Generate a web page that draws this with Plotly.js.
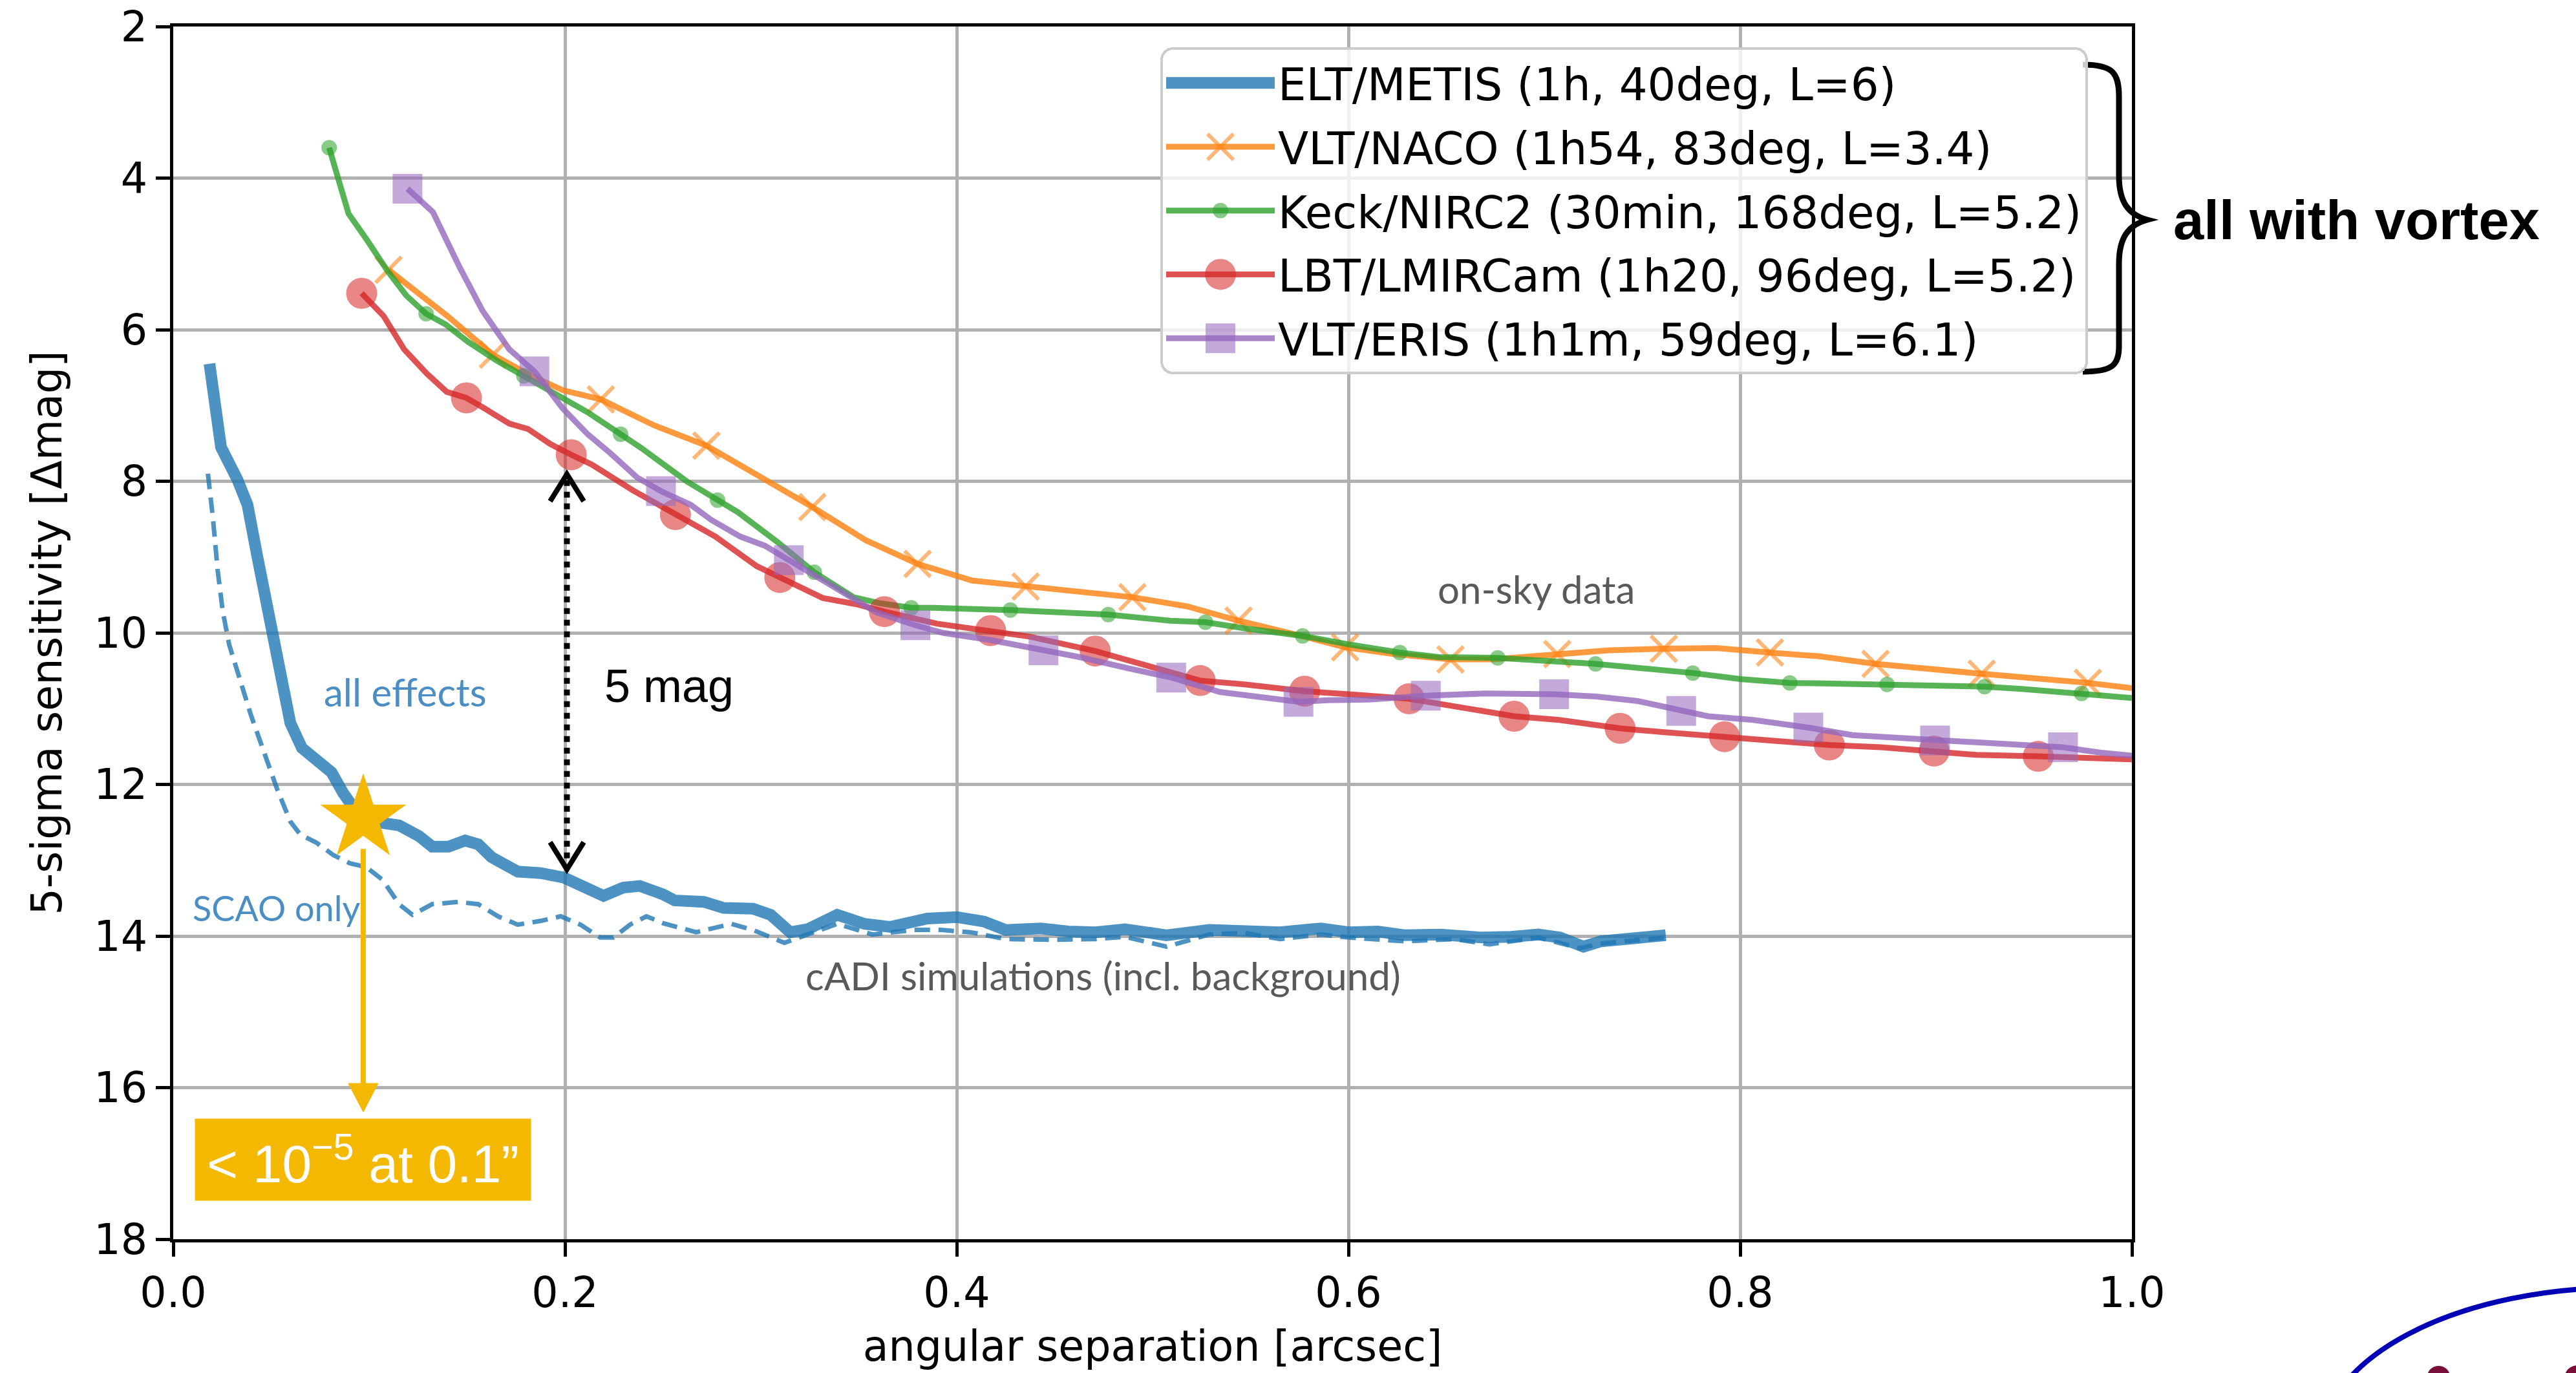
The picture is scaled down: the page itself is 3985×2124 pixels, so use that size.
<!DOCTYPE html>
<html>
<head>
<meta charset="utf-8">
<script src="https://cdn.plot.ly/plotly-3.0.1.min.js"></script>
<style>html,body{margin:0;padding:0;background:#fff;}#chart{width:3985px;height:2124px;}</style>
</head>
<body>
<div id="chart"></div>
<script>
// ---------------- data ----------------
const xTicks = [0.0, 0.2, 0.4, 0.6, 0.8, 1.0];
const yTicks = [2, 4, 6, 8, 10, 12, 14, 16, 18];

const seriesNames = [
  "ELT/METIS (1h, 40deg, L=6)",
  "VLT/NACO (1h54, 83deg, L=3.4)",
  "Keck/NIRC2 (30min, 168deg, L=5.2)",
  "LBT/LMIRCam (1h20, 96deg, L=5.2)",
  "VLT/ERIS (1h1m, 59deg, L=6.1)"
];

// ELT/METIS, all effects (solid)
const eltX = [0.0185,0.0244,0.0328,0.0379,0.0429,0.0480,0.0547,0.0598,0.0657,0.0749,0.0808,0.0867,0.0934,0.1019,0.1153,0.1254,0.1322,0.1406,0.1490,0.1557,0.1625,0.1759,0.1877,0.1995,0.2096,0.2197,0.2298,0.2382,0.2500,0.256,0.271,0.281,0.296,0.305,0.315,0.324,0.339,0.353,0.366,0.385,0.400,0.414,0.425,0.443,0.457,0.471,0.486,0.507,0.529,0.547,0.565,0.586,0.600,0.615,0.629,0.647,0.668,0.683,0.697,0.708,0.720,0.729,0.744,0.762];
const eltY = [6.45,7.55,7.98,8.31,8.99,9.61,10.59,11.19,11.52,11.71,11.84,12.11,12.36,12.49,12.54,12.68,12.82,12.82,12.74,12.79,12.96,13.15,13.17,13.23,13.36,13.47,13.36,13.34,13.45,13.53,13.55,13.63,13.64,13.72,13.95,13.91,13.72,13.84,13.88,13.77,13.75,13.81,13.92,13.90,13.94,13.95,13.91,13.99,13.92,13.92,13.95,13.90,13.95,13.94,13.99,13.98,14.02,14.01,13.98,14.02,14.14,14.07,14.02,13.99];

// ELT/METIS, SCAO only (dashed)
const scaoX = [0.0177,0.0202,0.0227,0.0253,0.0286,0.0337,0.0396,0.0463,0.0530,0.0598,0.0648,0.0732,0.0816,0.0901,0.0985,0.1069,0.1153,0.1221,0.1322,0.1456,0.1557,0.1658,0.1759,0.1877,0.1978,0.2079,0.2180,0.2247,0.2332,0.2416,0.2500,0.2614,0.267,0.285,0.296,0.312,0.328,0.339,0.357,0.378,0.392,0.407,0.425,0.450,0.471,0.486,0.507,0.529,0.547,0.565,0.586,0.600,0.629,0.654,0.672,0.697,0.718,0.729,0.762];
const scaoY = [7.90,8.47,9.18,9.72,10.16,10.59,11.08,11.57,12.06,12.49,12.66,12.77,12.93,13.04,13.09,13.26,13.58,13.72,13.58,13.55,13.58,13.74,13.85,13.80,13.74,13.85,14.02,14.02,13.85,13.74,13.83,13.91,13.95,13.84,13.92,14.09,13.95,13.84,13.98,13.92,13.92,13.95,14.04,14.05,14.04,14.01,14.14,13.98,13.96,14.04,13.98,14.02,14.07,14.04,14.11,14.02,14.16,14.10,14.02];

// VLT/NACO
const nacoX = [0.1099,0.1232,0.1400,0.1632,0.1821,0.1990,0.2183,0.2453,0.2722,0.2916,0.3126,0.3263,0.3537,0.3800,0.4078,0.4352,0.4690,0.4897,0.5175,0.5439,0.5745,0.5983,0.6230,0.6521,0.6736,0.7066,0.7330,0.7610,0.7878,0.8152,0.8405,0.8691,0.8910,0.9233,0.9500,0.9775,1.0];
const nacoY = [5.21,5.48,5.82,6.33,6.60,6.80,6.92,7.26,7.53,7.82,8.14,8.34,8.78,9.09,9.31,9.39,9.47,9.53,9.65,9.84,10.03,10.19,10.28,10.35,10.35,10.28,10.23,10.21,10.20,10.26,10.31,10.41,10.47,10.54,10.60,10.66,10.73];
const nacoMarkX = [0.1099,0.1632,0.2183,0.2722,0.3263,0.3800,0.4352,0.4897,0.5439,0.5983,0.6521,0.7066,0.7610,0.8152,0.8691,0.9233,0.9775];

// Keck/NIRC2
const keckX = [0.0796,0.0895,0.0990,0.1095,0.1190,0.1291,0.1390,0.1505,0.1653,0.1790,0.1947,0.2116,0.2284,0.2389,0.2621,0.2779,0.2884,0.3084,0.3273,0.3473,0.3610,0.3768,0.3878,0.4274,0.4774,0.5091,0.5270,0.5470,0.5766,0.5998,0.6262,0.6462,0.6762,0.7262,0.7758,0.8000,0.8253,0.8468,0.8750,0.9016,0.9248,0.9437,0.9743,1.0];
const keckY = [3.60,4.47,4.82,5.23,5.55,5.79,5.93,6.16,6.41,6.61,6.85,7.09,7.38,7.56,8.00,8.25,8.41,8.80,9.20,9.53,9.61,9.67,9.67,9.70,9.76,9.84,9.86,9.94,10.04,10.15,10.26,10.32,10.33,10.41,10.53,10.61,10.66,10.67,10.68,10.69,10.71,10.74,10.80,10.86];
const keckMarkX = [0.0796,0.1291,0.1790,0.2284,0.2779,0.3273,0.3768,0.4274,0.4774,0.5270,0.5766,0.6262,0.6762,0.7262,0.7758,0.8253,0.8750,0.9248,0.9743];

// LBT/LMIRCam
const lbtX = [0.0962,0.1074,0.1179,0.1295,0.1396,0.1497,0.1590,0.1716,0.1811,0.1926,0.2032,0.2137,0.2347,0.2564,0.2768,0.2979,0.3097,0.3316,0.3484,0.3631,0.3900,0.4173,0.4373,0.4707,0.5006,0.5243,0.5470,0.5776,0.6061,0.6310,0.6589,0.6846,0.7077,0.7387,0.7604,0.7920,0.8236,0.8455,0.8721,0.8990,0.9205,0.9522,0.9732,1.0];
const lbtY = [5.52,5.82,6.26,6.58,6.82,6.90,7.04,7.24,7.31,7.51,7.65,7.78,8.12,8.44,8.73,9.12,9.27,9.54,9.62,9.72,9.88,9.97,10.05,10.24,10.45,10.63,10.68,10.77,10.82,10.87,10.99,11.10,11.15,11.26,11.31,11.37,11.44,11.48,11.51,11.56,11.61,11.63,11.65,11.67];
const lbtMarkX = [0.0962,0.1497,0.2032,0.2564,0.3097,0.3631,0.4173,0.4707,0.5243,0.5776,0.6310,0.6846,0.7387,0.7920,0.8455,0.8990,0.9522];

// VLT/ERIS
const erisX = [0.1196,0.1326,0.1463,0.1579,0.1716,0.1844,0.1989,0.2116,0.2232,0.2368,0.2490,0.2642,0.2747,0.2895,0.3020,0.3143,0.3273,0.3442,0.3590,0.3789,0.3930,0.4162,0.4443,0.4627,0.4880,0.5095,0.5344,0.5534,0.5745,0.5892,0.6103,0.6395,0.6694,0.7050,0.7267,0.7477,0.7699,0.7836,0.8067,0.8348,0.8573,0.8784,0.8995,0.9205,0.9416,0.9648,0.9838,1.0];
const erisY = [4.14,4.45,5.18,5.75,6.26,6.55,7.04,7.38,7.63,7.95,8.13,8.31,8.51,8.73,8.85,9.04,9.24,9.51,9.73,9.90,10.00,10.09,10.23,10.32,10.47,10.59,10.78,10.85,10.91,10.89,10.88,10.83,10.80,10.81,10.84,10.90,11.03,11.10,11.15,11.25,11.35,11.38,11.42,11.44,11.48,11.51,11.58,11.62];
const erisMarkX = [0.1196,0.1844,0.2490,0.3143,0.3789,0.4443,0.5095,0.5745,0.6395,0.7050,0.7699,0.8348,0.8995,0.9648];

// highlighted point (star) and its arrow target
const starX = [0.097];
const starY = [12.45];
const starArrowEndY = 16.32;

// "5 mag" gap arrow
const gapX = 0.201;
const gapTopY = 7.906;
const gapBottomY = 13.12;

// ---------------- styling ----------------
const FONT = 'DejaVu Sans';
const LABEL_FONT = 'Lato';
const SANS = 'Liberation Sans';
const GOLD = '#f5b800';
const C = {
  blue: 'rgba(31,119,180,0.8)',
  orange: 'rgba(255,127,14,0.8)',
  green: 'rgba(44,160,44,0.8)',
  red: 'rgba(214,39,40,0.8)',
  purple: 'rgba(148,103,189,0.8)'
};
const MS = {naco: 40, keck: 24, lbt: 48, eris: 46};
const sizesFor = (xs, marks, s) => xs.map(v => marks.indexOf(v) >= 0 ? s : 0);

const traces = [
  {x: eltX, y: eltY, mode: 'lines', name: seriesNames[0], legendgroup: 'g0',
   line: {color: C.blue, width: 18}},
  {x: scaoX, y: scaoY, mode: 'lines', showlegend: false, legendgroup: 'g0b',
   line: {color: C.blue, width: 7, dash: '24px,13px'}},
  {x: nacoX, y: nacoY, mode: 'lines+markers', name: seriesNames[1], legendgroup: 'g1',
   line: {color: C.orange, width: 9},
   marker: {symbol: 'x-thin', size: sizesFor(nacoX, nacoMarkX, MS.naco), color: C.orange,
            line: {color: C.orange, width: 6}}},
  {x: keckX, y: keckY, mode: 'lines+markers', name: seriesNames[2], legendgroup: 'g2',
   line: {color: C.green, width: 9},
   marker: {symbol: 'circle', size: sizesFor(keckX, keckMarkX, MS.keck), color: C.green, line: {width: 0}}},
  {x: lbtX, y: lbtY, mode: 'lines+markers', name: seriesNames[3], legendgroup: 'g3',
   line: {color: C.red, width: 9},
   marker: {symbol: 'circle', size: sizesFor(lbtX, lbtMarkX, MS.lbt), color: C.red, line: {width: 0}}},
  {x: erisX, y: erisY, mode: 'lines+markers', name: seriesNames[4], legendgroup: 'g4',
   line: {color: C.purple, width: 9},
   marker: {symbol: 'square', size: sizesFor(erisX, erisMarkX, MS.eris), color: C.purple, line: {width: 0}}},
  {x: starX, y: starY, mode: 'markers', showlegend: false, legendgroup: 'g5',
   marker: {symbol: 'star', size: 100, color: GOLD, line: {width: 0}}}
];

// pixel -> paper helpers for decorations outside the axes
const PL = 268, PR = 3298, PT = 41, PB = 1917;
const px = X => (X - PL) / (PR - PL);
const py = Y => (PB - Y) / (PB - PT);
const brace = [
  ['M', 3222, 100], ['C', 3268, 100, 3278, 112, 3278, 150], ['L', 3278, 272],
  ['C', 3278, 312, 3292, 332, 3322, 340], ['C', 3292, 348, 3278, 368, 3278, 408],
  ['L', 3278, 535], ['C', 3278, 565, 3268, 575, 3222, 575]
].map(seg => seg[0] + seg.slice(1).map((v, i) => (i % 2 === 0 ? px(v) : py(v)).toFixed(5)).join(',')).join(' ');

const shapes = [
  // dotted gap line with open arrowheads
  {type: 'line', xref: 'x', yref: 'y', x0: gapX, x1: gapX, y0: gapTopY + 0.08, y1: gapBottomY - 0.08,
   line: {color: 'black', width: 9, dash: 'dot'}},
  {type: 'path', xref: 'x', yref: 'y', xsizemode: 'pixel', ysizemode: 'pixel', xanchor: gapX, yanchor: gapTopY,
   path: 'M-26,-42L0,0L26,-42', line: {color: 'black', width: 8}},
  {type: 'path', xref: 'x', yref: 'y', xsizemode: 'pixel', ysizemode: 'pixel', xanchor: gapX, yanchor: gapBottomY,
   path: 'M-26,42L0,0L26,42', line: {color: 'black', width: 8}},
  // gold arrow from star
  {type: 'line', xref: 'x', yref: 'y', x0: starX[0], x1: starX[0], y0: starY[0] + 0.4, y1: starArrowEndY - 0.3,
   line: {color: GOLD, width: 8}},
  {type: 'path', xref: 'x', yref: 'y', xsizemode: 'pixel', ysizemode: 'pixel', xanchor: starX[0], yanchor: starArrowEndY,
   path: 'M-23,44L23,44L0,0Z', fillcolor: GOLD, line: {color: GOLD, width: 1}},
  // brace
  {type: 'path', xref: 'paper', yref: 'paper', path: brace, line: {color: 'black', width: 9}},
  // corner logo fragment
  {type: 'circle', xref: 'paper', yref: 'paper', x0: px(3590), x1: px(4520), y0: py(2480), y1: py(1992),
   line: {color: '#0000b4', width: 8}},
  {type: 'circle', xref: 'paper', yref: 'paper', x0: px(3755), x1: px(3790), y0: py(2145), y1: py(2113),
   fillcolor: '#7a0d3a', line: {width: 0}},
  {type: 'circle', xref: 'paper', yref: 'paper', x0: px(3968), x1: px(4010), y0: py(2145), y1: py(2112),
   fillcolor: '#7a0d3a', line: {width: 0}}
];

const annotations = [
  {text: 'all effects', xref: 'x', yref: 'y', x: 0.0762, y: 10.78, xanchor: 'left', yanchor: 'middle',
   showarrow: false, font: {family: LABEL_FONT, size: 60, color: '#4a8ec4'}},
  {text: 'SCAO only', xref: 'x', yref: 'y', x: 0.0092, y: 13.63, xanchor: 'left', yanchor: 'middle',
   showarrow: false, font: {family: LABEL_FONT, size: 54, color: '#4a8ec4'}},
  {text: 'on-sky data', xref: 'x', yref: 'y', x: 0.645, y: 9.42, xanchor: 'left', yanchor: 'middle',
   showarrow: false, font: {family: LABEL_FONT, size: 60, color: '#58595b'}},
  {text: 'cADI simulations (incl. background)', xref: 'x', yref: 'y', x: 0.322, y: 14.52, xanchor: 'left', yanchor: 'middle',
   showarrow: false, font: {family: LABEL_FONT, size: 60, color: '#58595b'}},
  {text: '5 mag', xref: 'x', yref: 'y', x: 0.2195, y: 10.70, xanchor: 'left', yanchor: 'middle',
   showarrow: false, font: {family: SANS, size: 72, color: 'black'}},
  {text: '< 10<sup>\u22125</sup> at 0.1\u201d', xref: 'x', yref: 'y', x: 0.0967, y: 16.95, xanchor: 'center', yanchor: 'middle',
   showarrow: false, bgcolor: GOLD, borderpad: 13, width: 493, height: 100,
   font: {family: SANS, size: 82, color: 'white'}},
  {text: '<b>all with vortex</b>', xref: 'paper', yref: 'paper', x: px(3360), y: py(340), xanchor: 'left', yanchor: 'middle',
   showarrow: false, font: {family: SANS, size: 85, color: 'black'}}
];

const axisCommon = {
  showline: true, mirror: true, linecolor: 'black', linewidth: 5,
  ticks: 'outside', ticklen: 22, tickwidth: 5, tickcolor: 'black',
  showgrid: true, gridcolor: '#b0b0b0', gridwidth: 5, zeroline: false,
  tickfont: {family: FONT, size: 65, color: 'black'}
};

const layout = {
  width: 3985, height: 2124,
  paper_bgcolor: 'white', plot_bgcolor: 'white',
  margin: {l: PL, r: 3985 - PR, t: PT, b: 2124 - PB, pad: 0},
  font: {family: FONT, size: 65, color: 'black'},
  xaxis: Object.assign({}, axisCommon, {
    range: [0, 1], tickmode: 'array', tickvals: xTicks, ticktext: xTicks.map(v => v.toFixed(1)),
    title: {text: 'angular separation [arcsec]', font: {family: FONT, size: 65, color: 'black'}, standoff: 25}
  }),
  yaxis: Object.assign({}, axisCommon, {
    range: [18, 2], tickmode: 'array', tickvals: yTicks, ticktext: yTicks.map(String),
    title: {text: '5-sigma sensitivity [\u0394mag]', font: {family: FONT, size: 65, color: 'black'}, standoff: 30}
  }),
  showlegend: true,
  legend: {
    x: px(1795), y: py(73), xanchor: 'left', yanchor: 'top',
    bgcolor: 'rgba(255,255,255,0.8)', bordercolor: '#cccccc', borderwidth: 4,
    font: {family: FONT, size: 69, color: 'black'}, itemwidth: 168, tracegroupgap: 6
  },
  shapes: shapes,
  annotations: annotations
};

Plotly.newPlot('chart', traces, layout, {staticPlot: true, displayModeBar: false}).then(gd => {
  // legend styling to match the original: rounded frame, full-size symbols
  gd.querySelectorAll('.legend rect.bg').forEach(bg => {
    bg.setAttribute('rx', 18); bg.setAttribute('ry', 18);
  });
  const wanted = [null, {s: MS.naco, sw: 6}, {s: MS.keck}, {s: MS.lbt}, {s: MS.eris}];
  gd.querySelectorAll('.legend .traces').forEach((g, i) => {
    if (i === 0) {
      g.querySelectorAll('.legendlines path').forEach(p => { p.style.strokeWidth = '18px'; });
      return;
    }
    const w = wanted[i];
    if (!w) return;
    g.querySelectorAll('.legendpoints path').forEach(p => {
      if (p.closest('.legendlines')) return;
      const bb = p.getBBox();
      const cur = Math.max(bb.width, bb.height);
      if (!cur) return;
      const k = w.s / cur;
      const t = p.getAttribute('transform') || '';
      p.setAttribute('transform', t + ' scale(' + k.toFixed(3) + ')');
      if (w.sw) p.style.strokeWidth = (w.sw / k).toFixed(2) + 'px';
    });
  });
});
</script>
</body>
</html>
